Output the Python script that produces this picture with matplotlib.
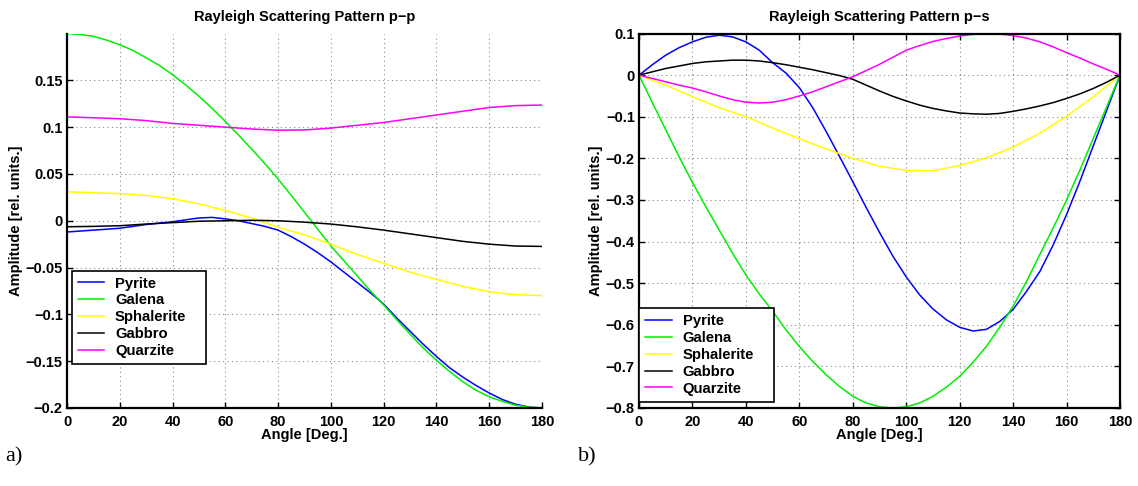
import numpy as np
import matplotlib
matplotlib.use("Agg")
import matplotlib.pyplot as plt
from matplotlib.patches import Rectangle

plt.rcParams['font.family'] = ['Liberation Sans', 'DejaVu Sans']
plt.rcParams['axes.unicode_minus'] = True

names = ["Pyrite", "Galena", "Sphalerite", "Gabbro", "Quarzite"]
colors = ["#0000ff", "#00ee00", "#ffff00", "#000000", "#ff00ff"]

# Scattering angle samples (degrees)
angle_fine = np.arange(0, 181, 5)
angle_coarse = np.arange(0, 181, 10)

# p-p pattern
pp_pyrite = [-0.012, -0.011, -0.010, -0.009, -0.008, -0.006, -0.004, -0.0025, -0.001, 0.001,
             0.003, 0.0036, 0.002, 0.000, -0.003, -0.006, -0.010, -0.017, -0.025, -0.034,
             -0.044, -0.055, -0.066, -0.077, -0.089, -0.104, -0.118, -0.132, -0.145, -0.157,
             -0.167, -0.176, -0.184, -0.191, -0.196, -0.199, -0.200]
pp_galena = [0.200, 0.199, 0.197, 0.193, 0.188, 0.182, 0.174, 0.166, 0.156, 0.145,
             0.133, 0.120, 0.106, 0.0915, 0.0765, 0.061, 0.0445, 0.027, 0.009, -0.009,
             -0.027, -0.043, -0.059, -0.075, -0.090, -0.106, -0.121, -0.136, -0.149, -0.161,
             -0.172, -0.181, -0.188, -0.193, -0.197, -0.199, -0.200]
pp_sphalerite = [0.031, 0.030, 0.029, 0.027, 0.0235, 0.018, 0.011, 0.003, -0.007, -0.015,
                 -0.025, -0.036, -0.0455, -0.055, -0.0626, -0.070, -0.0758, -0.079, -0.080]
pp_gabbro = [-0.0064, -0.006, -0.0053, -0.0035, -0.002, -0.0005, 0.0, 0.0005, 0.0, -0.0015,
             -0.0035, -0.0065, -0.010, -0.014, -0.018, -0.022, -0.025, -0.027, -0.0274]
pp_quarzite = [0.111, 0.110, 0.109, 0.107, 0.104, 0.102, 0.100, 0.098, 0.0967, 0.097,
               0.099, 0.102, 0.105, 0.109, 0.113, 0.117, 0.121, 0.123, 0.1236]

# p-s pattern
ps_pyrite = [0.0, 0.025, 0.048, 0.066, 0.080, 0.091, 0.096, 0.092, 0.080, 0.060,
             0.030, 0.005, -0.030, -0.078, -0.135, -0.195, -0.256, -0.318, -0.378, -0.435,
             -0.485, -0.528, -0.562, -0.588, -0.606, -0.615, -0.611, -0.592, -0.563, -0.520,
             -0.472, -0.408, -0.335, -0.255, -0.170, -0.085, 0.0]
ps_galena = [0.0, -0.066, -0.131, -0.196, -0.258, -0.316, -0.372, -0.428, -0.480, -0.526,
             -0.567, -0.612, -0.652, -0.688, -0.720, -0.748, -0.772, -0.788, -0.797, -0.800,
             -0.797, -0.788, -0.772, -0.750, -0.724, -0.690, -0.652, -0.606, -0.555, -0.496,
             -0.431, -0.367, -0.300, -0.228, -0.152, -0.076, 0.0]
ps_sphalerite = [0.0, -0.024, -0.052, -0.078, -0.100, -0.127, -0.153, -0.177, -0.200, -0.219,
                 -0.229, -0.230, -0.217, -0.199, -0.173, -0.139, -0.099, -0.052, 0.0]
ps_gabbro = [0.0, 0.008, 0.016, 0.022, 0.028, 0.032, 0.034, 0.036, 0.036, 0.034,
             0.030, 0.025, 0.019, 0.013, 0.006, -0.001, -0.010, -0.024, -0.038, -0.051,
             -0.062, -0.072, -0.080, -0.086, -0.091, -0.093, -0.094, -0.092, -0.087, -0.081,
             -0.074, -0.066, -0.056, -0.045, -0.032, -0.017, 0.0]
ps_quarzite = [0.0, -0.008, -0.016, -0.024, -0.031, -0.040, -0.050, -0.059, -0.065, -0.067,
               -0.065, -0.059, -0.050, -0.040, -0.028, -0.016, -0.004, 0.011, 0.026, 0.043,
               0.060, 0.071, 0.081, 0.088, 0.094, 0.098, 0.100, 0.099, 0.095, 0.089,
               0.080, 0.068, 0.054, 0.041, 0.027, 0.014, 0.0]

xticks = np.arange(0, 181, 20)
pp_yticks = [-0.2, -0.15, -0.1, -0.05, 0, 0.05, 0.1, 0.15]
ps_yticks = [-0.8, -0.7, -0.6, -0.5, -0.4, -0.3, -0.2, -0.1, 0, 0.1]

fig = plt.figure(figsize=(11.38, 4.86), dpi=100)
ax1 = fig.add_axes([0.0589, 0.1605, 0.4174, 0.7705])
ax2 = fig.add_axes([0.5615, 0.1605, 0.4227, 0.7705])

FS = 10.5


def fmt(v):
    s = ("%g" % v)
    if s.startswith("-"):
        s = "\u2212" + s[1:]
    return s


def style(ax, yticks, ylim, full_box):
    ax.set_xlim(0, 180)
    ax.set_ylim(*ylim)
    ax.set_xticks(xticks)
    ax.set_xticklabels([fmt(v) for v in xticks], fontsize=FS, fontweight='bold')
    ax.set_yticks(yticks)
    ax.set_yticklabels([fmt(v) for v in yticks], fontsize=FS, fontweight='bold')
    ax.grid(True, linestyle=(0, (1, 3)), color='#888888', linewidth=0.8)
    ax.tick_params(direction='in', length=4, width=1.0, top=full_box, right=full_box)
    ax.tick_params(axis='x', pad=5)
    ax.tick_params(axis='y', pad=3)
    for side in ['left', 'bottom']:
        ax.spines[side].set_linewidth(1.6)
    for side in ['top', 'right']:
        ax.spines[side].set_visible(full_box)
        ax.spines[side].set_linewidth(1.6)
    ax.set_xlabel("Angle [Deg.]", fontsize=FS, fontweight='bold', labelpad=-1)
    ax.set_ylabel("Amplitude [rel. units.]", fontsize=FS, fontweight='bold', labelpad=2)


legend_kw = dict(prop={'weight': 'bold', 'size': 10.7}, frameon=False,
                 handlelength=1.8, handletextpad=0.7,
                 labelspacing=0.2, borderpad=0.4, borderaxespad=0)

pp_series = [pp_pyrite, pp_galena, pp_sphalerite, pp_gabbro, pp_quarzite]
pp_x = [angle_fine, angle_fine, angle_coarse, angle_coarse, angle_coarse]
for name, c, xs, vals in zip(names, colors, pp_x, pp_series):
    ax1.plot(xs, vals, color=c, lw=1.1, label=name)
style(ax1, pp_yticks, (-0.2, 0.2), False)
ax1.set_title("Rayleigh Scattering Pattern p\u2212p", fontsize=FS, fontweight='bold', pad=9)
leg1 = ax1.legend(loc='upper left', bbox_to_anchor=(0.01, 0.367), **legend_kw)

ps_series = [ps_pyrite, ps_galena, ps_sphalerite, ps_gabbro, ps_quarzite]
ps_x = [angle_fine, angle_fine, angle_coarse, angle_fine, angle_fine]
for name, c, xs, vals in zip(names, colors, ps_x, ps_series):
    ax2.plot(xs, vals, color=c, lw=1.1, label=name)
style(ax2, ps_yticks, (-0.8, 0.1), True)
ax2.set_title("Rayleigh Scattering Pattern p\u2212s", fontsize=FS, fontweight='bold', pad=9)
leg2 = ax2.legend(loc='lower left', bbox_to_anchor=(0.001, 0.017), **legend_kw)

# Boxed legend frames with extra room to the right of the labels
fig.canvas.draw()
for leg in (leg1, leg2):
    bb = leg.get_window_extent()
    box = Rectangle((bb.x0, bb.y0), bb.width + 14, bb.height, transform=None,
                    facecolor='white', edgecolor='black', linewidth=1.2, zorder=4.9)
    fig.add_artist(box)
    leg.set_zorder(5)
    leg.remove()
    fig.add_artist(leg)

fig.text(0.005, 0.05, "a)", fontsize=16, family='Liberation Serif')
fig.text(0.508, 0.05, "b)", fontsize=16, family='Liberation Serif')

fig.savefig("out.png", dpi=100)
